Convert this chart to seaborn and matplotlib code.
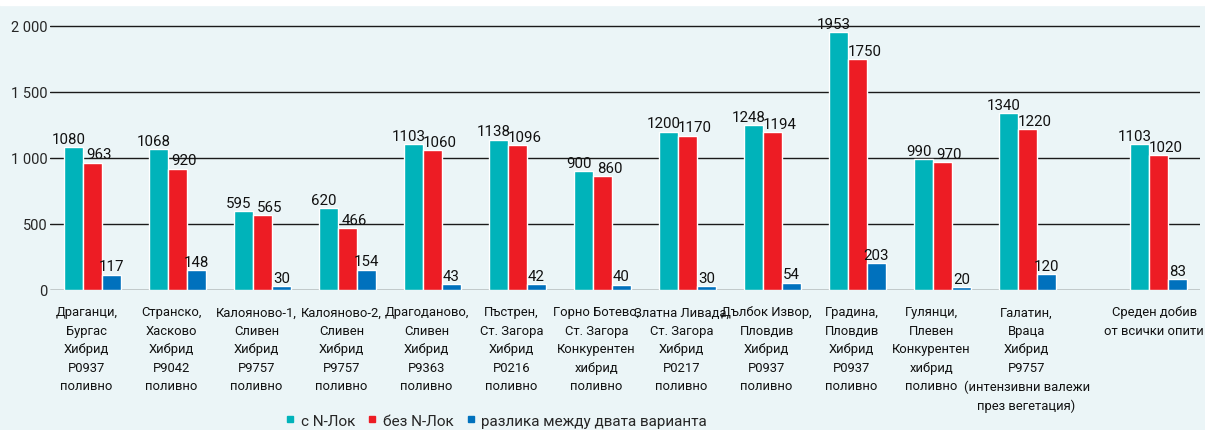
import matplotlib
matplotlib.use("Agg")
import matplotlib.pyplot as plt
from matplotlib.lines import Line2D
from matplotlib.patches import Rectangle
import seaborn as sns
import pandas as pd

# ------------------------------------------------------------------
# Data
# ------------------------------------------------------------------
trials = [
    "Драганци,\nБургас\nХибрид\nP0937\nполивно",
    "Странско,\nХасково\nХибрид\nP9042\nполивно",
    "Калояново-1,\nСливен\nХибрид\nP9757\nполивно",
    "Калояново-2,\nСливен\nХибрид\nP9757\nполивно",
    "Драгоданово,\nСливен\nХибрид\nP9363\nполивно",
    "Пъстрен,\nСт. Загора\nХибрид\nP0216\nполивно",
    "Горно Ботево,\nСт. Загора\nКонкурентен\nхибрид\nполивно",
    "Златна Ливада,\nСт. Загора\nХибрид\nP0217\nполивно",
    "Дълбок Извор,\nПловдив\nХибрид\nP0937\nполивно",
    "Градина,\nПловдив\nХибрид\nP0937\nполивно",
    "Гулянци,\nПлевен\nКонкурентен\nхибрид\nполивно",
    "Галатин,\nВраца\nХибрид\nP9757\n(интензивни валежи\nпрез вегетация)",
    "Среден добив\nот всички опити",
]
with_nlok = [1080, 1068, 595, 620, 1103, 1138, 900, 1200, 1248, 1953, 990, 1340, 1103]
without_nlok = [963, 920, 565, 466, 1060, 1096, 860, 1170, 1194, 1750, 970, 1220, 1020]
difference = [117, 148, 30, 154, 43, 42, 40, 30, 54, 203, 20, 120, 83]

series = ["с N-Лок", "без N-Лок", "разлика между двата варианта"]
colors = ["#00B3BA", "#ED1C24", "#0071BD"]
yticks = [0, 500, 1000, 1500, 2000]
ytick_labels = ["0", "500", "1 000", "1 500", "2 000"]

bg = "#EBF5F7"

# long format for seaborn
rows = []
for name, vals in zip(series, [with_nlok, without_nlok, difference]):
    for t, v in zip(trials, vals):
        rows.append({"trial": t, "series": name, "value": v})
df = pd.DataFrame(rows)

sns.set_theme(style="white")
plt.rcParams["font.family"] = ["Roboto", "DejaVu Sans"]

fig = plt.figure(figsize=(12.05, 4.31), dpi=100, facecolor=bg)
# thin white strip across the top
fig.patches.append(Rectangle((0, 0.986), 1, 0.014, transform=fig.transFigure,
                             color="white", zorder=0))
ax = fig.add_axes([50 / 1205, (431 - 291) / 431, 1150 / 1205, 285 / 431])
ax.set_facecolor(bg)

sns.barplot(data=df, x="trial", y="value", hue="series", order=trials,
            hue_order=series, palette=colors, width=0.67, saturation=1,
            legend=False, ax=ax, zorder=3)

# push the average group a bit further right (extra gap in the original)
gap = 0.54
for p in ax.patches:
    if p.get_x() > len(trials) - 1.5:
        p.set_x(p.get_x() + gap)

# value labels: teal ones nudged left, red ones nudged right, as in the original
shifts = [-3.5, 5, 0]
for cont, dx in zip(ax.containers, shifts):
    texts = ax.bar_label(cont, fontsize=10.8, padding=1, color="#111111")
    for t in texts:
        t.xyann = (dx, 1)

ax.set_xlim(-0.5, 13.03)
ax.set_ylim(0, 2159)
ax.set_yticks(yticks)
ax.set_yticklabels(ytick_labels, fontsize=10.5)
# category labels sit slightly left of their bar groups
offsets = [-0.07] * 10 + [-0.13, -0.01]
ticks = [i + o for i, o in enumerate(offsets)] + [len(trials) - 1 + gap - 0.05]
ax.set_xticks(ticks)
ax.set_xticklabels(trials, fontsize=9.4, linespacing=1.55, color="#111111")
ax.tick_params(axis="x", length=0, pad=11)
ax.tick_params(axis="y", length=0, pad=2)
ax.set_xlabel("")
ax.set_ylabel("")
for s in ax.spines.values():
    s.set_visible(False)
ax.grid(axis="y", color="#1a1a1a", linewidth=1.0, zorder=1)
ax.set_axisbelow(True)

handles = [Line2D([], [], marker="s", linestyle="", markersize=5, color=c) for c in colors]
fig.legend(handles, series, loc="center", bbox_to_anchor=(0.412, 0.022), ncol=3,
           frameon=False, fontsize=11, handlelength=0.6, handletextpad=0.4,
           columnspacing=0.8)

fig.savefig("out.png", dpi=100, facecolor=bg)
